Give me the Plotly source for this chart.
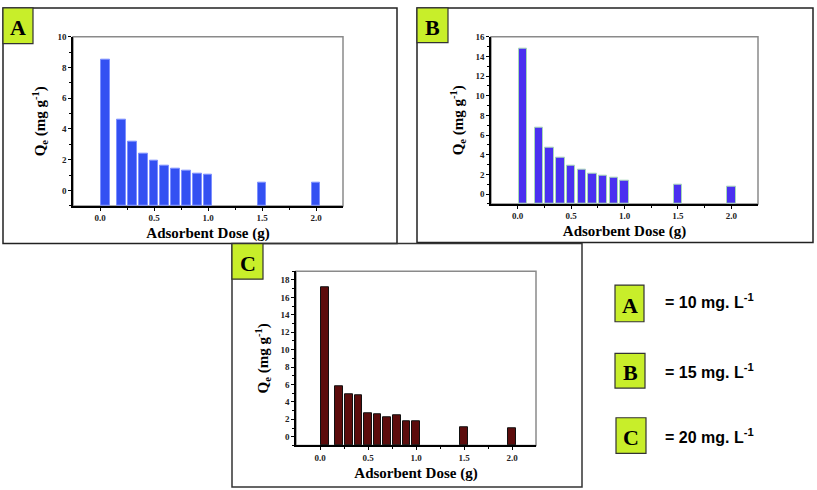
import plotly.graph_objects as go

W, H = 817, 490

doses = [0.05, 0.2, 0.3, 0.4, 0.5, 0.6, 0.7, 0.8, 0.9, 1.0, 1.5, 2.0]
qe_A = [8.5, 4.6, 3.2, 2.4, 1.95, 1.63, 1.41, 1.26, 1.09, 1.0, 0.51, 0.51]
qe_B = [14.8, 6.78, 4.77, 3.69, 2.92, 2.45, 2.08, 1.88, 1.71, 1.41, 0.98, 0.77]
qe_C = [17.2, 5.85, 4.89, 4.78, 2.71, 2.56, 2.22, 2.49, 1.76, 1.76, 1.07, 0.96]

x_ticks = [0.0, 0.5, 1.0, 1.5, 2.0]
x_ticklabels = ["0.0", "0.5", "1.0", "1.5", "2.0"]
panel_labels = ["A", "B", "C"]
legend_texts = ["= 10 mg. L<sup>-1</sup>", "= 15 mg. L<sup>-1</sup>", "= 20 mg. L<sup>-1</sup>"]

def px_x(p):
    return p / W

def px_y(p):
    return 1 - p / H

# plot areas in pixels: (left, right, top, bottom)
areas = [(73, 343, 32, 203), (491, 758, 32, 201), (296, 536, 269, 445)]
yranges = [[-1, 10], [-1, 16], [-1, 19]]
ydticks = [2, 2, 2]
colors = ["#3350f2", "#4a30f0", "#5c0c0c"]
edges = ["#7d90ff", "#a8d8b8", "#111111"]
series = [qe_A, qe_B, qe_C]

fig = go.Figure()
serif = "Liberation Serif, Times New Roman, serif"

for i in range(3):
    ax = "" if i == 0 else str(i + 1)
    ymin = yranges[i][0]
    fig.add_trace(go.Bar(
        x=doses, y=[v - ymin for v in series[i]], base=ymin,
        width=0.08, marker=dict(color=colors[i], line=dict(color=edges[i], width=1)),
        xaxis="x" + ax, yaxis="y" + ax, showlegend=False,
        customdata=series[i], hovertemplate="%{x}: %{customdata}<extra></extra>",
    ))
    l, r, t, b = areas[i]
    xa = dict(domain=[px_x(l), px_x(r)], range=[-0.25, 2.25], anchor="y" + ax,
              tickvals=x_ticks, ticktext=x_ticklabels, ticks="outside", ticklen=3,
              tickcolor="black", showline=True, linecolor="black", linewidth=1.5,
              showgrid=False, zeroline=False,
              minor=dict(tickvals=[0.25, 0.75, 1.25, 1.75], ticks="outside", ticklen=2, tickcolor="black"),
              tickfont=dict(family=serif, size=9, color="#222", weight="bold"),
              title=dict(text="Adsorbent Dose (g)", standoff=5,
                         font=dict(family=serif, size=15, color="black", weight="bold")))
    ya = dict(domain=[px_y(b), px_y(t)], range=yranges[i], anchor="x" + ax,
              dtick=ydticks[i], tick0=0, ticks="outside", ticklen=3, tickcolor="black",
              showline=True, linecolor="black", linewidth=1.5, showgrid=False, zeroline=False,
              minor=dict(dtick=1, ticks="outside", ticklen=2, tickcolor="black"),
              tickfont=dict(family=serif, size=9, color="#222", weight="bold"),
              title=dict(text="Q<sub>e</sub> (mg g<sup>-1</sup>)", standoff=8,
                         font=dict(family=serif, size=15, color="black", weight="bold")))
    fig.update_layout(**{"xaxis" + ax: xa, "yaxis" + ax: ya})
    fig.add_shape(type="rect", xref="x" + ax + " domain", yref="y" + ax + " domain",
                  x0=0, x1=1, y0=0, y1=1, line=dict(color="#8a8a8a", width=1.5), layer="below")

# panel outer boxes (pixels)
boxes = [(3, 397, 3, 241), (417, 813, 3, 240), (232, 582, 241, 487)]
box_colors = ["#222222", "#222222", "#333333"]
for (x0, x1, y0, y1), c in zip(boxes, box_colors):
    fig.add_shape(type="rect", xref="paper", yref="paper",
                  x0=px_x(x0), x1=px_x(x1), y0=px_y(y1), y1=px_y(y0),
                  line=dict(color=c, width=1.5), layer="below")

lime = "#c8ee2a"
label_boxes = [(3, 33, 3, 39), (417, 448, 3, 38), (232, 263, 241, 277)]
legend_boxes = [(615, 644, 283, 320), (615, 645, 352, 387), (616, 646, 417, 453)]
legend_text_y = [299, 370, 435]

def add_label_box(x0, x1, y0, y1, letter):
    fig.add_shape(type="rect", xref="paper", yref="paper",
                  x0=px_x(x0), x1=px_x(x1), y0=px_y(y1), y1=px_y(y0),
                  fillcolor=lime, line=dict(color="#333333", width=1.2), layer="above")
    fig.add_annotation(xref="paper", yref="paper", x=px_x((x0 + x1) / 2), y=px_y((y0 + y1) / 2 + 2),
                       text=letter, showarrow=False, xanchor="center", yanchor="middle",
                       font=dict(family=serif, size=22, color="black", weight="bold"))

for (x0, x1, y0, y1), lab in zip(label_boxes, panel_labels):
    add_label_box(x0, x1, y0, y1, lab)
for (x0, x1, y0, y1), lab, txt, ty in zip(legend_boxes, panel_labels, legend_texts, legend_text_y):
    add_label_box(x0, x1, y0, y1, lab)
    fig.add_annotation(xref="paper", yref="paper", x=px_x(663), y=px_y(ty),
                       text=txt, showarrow=False, xanchor="left", yanchor="middle",
                       font=dict(family="Liberation Sans Narrow, Arial Narrow, Liberation Sans, sans-serif",
                                 size=16, color="black", weight="bold"))

fig.update_layout(width=W, height=H, margin=dict(l=0, r=0, t=0, b=0),
                  paper_bgcolor="white", plot_bgcolor="white", bargap=0)

fig.write_html("out.html", config={"displayModeBar": False},
               post_script="document.body.style.margin='0px';document.body.style.overflow='hidden';")
